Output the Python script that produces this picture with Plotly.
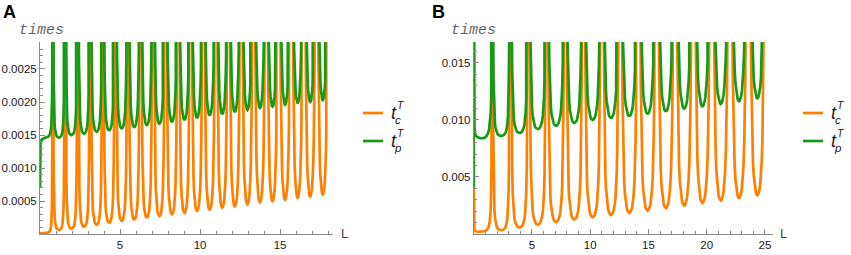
import plotly.graph_objects as go

W, H = 851, 255

# ---------------- Panel A data ----------------
A_POLES = [0.79, 1.57, 2.36, 3.14, 3.93, 4.71, 5.50, 6.28, 7.07, 7.85, 8.64, 9.42,
           10.21, 11.00, 11.78, 12.57, 13.35, 14.14, 14.92, 15.71, 16.49, 17.28, 18.06]
A_ORANGE_MIN = [0.00006, 0.00008, 0.00011, 0.00014, 0.00017, 0.00020, 0.00022, 0.00025,
                0.00027, 0.00030, 0.00032, 0.00035, 0.00037, 0.00040, 0.00042, 0.00045,
                0.00048, 0.00050, 0.00052, 0.00055, 0.00057, 0.00060]
A_GREEN_MIN = [0.00146, 0.00150, 0.00152, 0.00155, 0.00157, 0.00160, 0.00162, 0.00165,
               0.00167, 0.00170, 0.00173, 0.00176, 0.00180, 0.00182, 0.00185, 0.00188,
               0.00191, 0.00193, 0.00196, 0.00198, 0.00200, 0.00203]
A_ORANGE_START_L = [0, 0.2, 0.4, 0.5, 0.58, 0.63, 0.67, 0.70, 0.72, 0.74, 0.755, 0.765, 0.775, 0.786]
A_ORANGE_START_T = [0.00001, 0.00001, 0.000015, 0.00002, 0.00003, 0.00005, 0.00008, 0.00013,
                    0.0002, 0.00035, 0.0006, 0.001, 0.002, 1.0]
A_GREEN_START_L = [0, 0.003, 0.01, 0.03, 0.08, 0.15, 0.25, 0.35, 0.45, 0.55, 0.62, 0.67, 0.71,
                   0.74, 0.76, 0.775, 0.786]
A_GREEN_START_T = [0.0007, 0.0011, 0.00132, 0.00139, 0.00142, 0.00144, 0.00145, 0.00146,
                   0.00147, 0.00148, 0.00151, 0.00156, 0.00165, 0.0018, 0.0021, 0.003, 1.0]

# ---------------- Panel B data ----------------
B_POLES = [1.57, 3.14, 4.71, 6.28, 7.85, 9.42, 11.00, 12.57, 14.14, 15.71, 17.28, 18.85,
           20.42, 21.99, 23.56, 25.13]
B_ORANGE_MIN = [0.00033, 0.00057, 0.00082, 0.00105, 0.00127, 0.00147, 0.00167, 0.00186,
                0.00206, 0.00227, 0.00250, 0.00272, 0.00294, 0.00315, 0.00340]
B_GREEN_MIN = [0.00860, 0.00886, 0.00920, 0.00950, 0.00974, 0.01000, 0.01018, 0.01035,
               0.01055, 0.01075, 0.01100, 0.01120, 0.01140, 0.01164, 0.01190]
B_ORANGE_START_L = [0, 0.01, 0.03, 0.06, 0.1, 0.2, 0.4, 0.6, 0.8, 1.0, 1.15, 1.27, 1.36,
                    1.43, 1.48, 1.52, 1.545, 1.56, 1.571]
B_ORANGE_START_T = [0.0041, 0.0025, 0.001, 0.0005, 0.0003, 0.00022, 0.0002, 0.0002, 0.00022,
                    0.00028, 0.0004, 0.0006, 0.001, 0.0017, 0.003, 0.006, 0.015, 0.05, 1.0]
B_GREEN_START_L = [0, 0.004, 0.012, 0.02, 0.035, 0.06, 0.1, 0.2, 0.35, 0.55, 0.75, 0.95, 1.1,
                   1.22, 1.32, 1.4, 1.46, 1.5, 1.535, 1.555, 1.571]
B_GREEN_START_T = [0.004, 0.012, 0.03, 0.015, 0.0105, 0.0093, 0.0088, 0.0086, 0.00848, 0.0084,
                   0.0084, 0.00845, 0.0086, 0.0088, 0.0092, 0.0098, 0.0107, 0.012, 0.015,
                   0.025, 1.0]

# Shape of one "U" between two poles: offset from the centre (fraction of the pole gap)
# and height relative to the U's minimum
U_PHASE = [0, 0.04, 0.08, 0.12, 0.16, 0.20, 0.24, 0.28, 0.31, 0.34, 0.37, 0.40, 0.42,
           0.44, 0.46, 0.475, 0.485, 0.492, 0.497]
U_RISE = [1, 1.016, 1.066, 1.157, 1.302, 1.528, 1.882, 2.461, 3.165, 4.309, 6.340, 10.47,
          16.17, 28.48, 63.66, 162.4, 450.6, 1583, 11259]

ORANGE = "#FF8000"
GREEN = "#169B16"
AXIS = "#8a8a8a"
LW = 2.7


def build(start_l, start_t, poles, orange_min, floor_min):
    xs, ys = list(start_l), list(start_t)
    prof = [(-p, r) for p, r in zip(U_PHASE[::-1], U_RISE[::-1])][:-1] + list(zip(U_PHASE, U_RISE))
    for i, m in enumerate(orange_min):
        left, right = poles[i], poles[i + 1]
        gap = right - left
        for p, r in prof:
            xs.append(left + (0.5 + p) * gap)
            ys.append(floor_min[i] + m * (r - 1))
    return xs, ys


fig = go.Figure()

ax, ay = build(A_ORANGE_START_L, A_ORANGE_START_T, A_POLES, A_ORANGE_MIN, A_ORANGE_MIN)
fig.add_trace(go.Scatter(x=ax, y=ay, mode="lines", line=dict(color=ORANGE, width=LW),
                         xaxis="x", yaxis="y", showlegend=False, name="t_c^T"))
gx, gy = build(A_GREEN_START_L, A_GREEN_START_T, A_POLES, A_ORANGE_MIN, A_GREEN_MIN)
fig.add_trace(go.Scatter(x=gx, y=gy, mode="lines", line=dict(color=GREEN, width=LW),
                         xaxis="x", yaxis="y", showlegend=False, name="t_p^T"))

bx, by = build(B_ORANGE_START_L, B_ORANGE_START_T, B_POLES, B_ORANGE_MIN, B_ORANGE_MIN)
fig.add_trace(go.Scatter(x=bx, y=by, mode="lines", line=dict(color=ORANGE, width=LW),
                         xaxis="x2", yaxis="y2", showlegend=False, name="t_c^T"))
hx, hy = build(B_GREEN_START_L, B_GREEN_START_T, B_POLES, B_ORANGE_MIN, B_GREEN_MIN)
fig.add_trace(go.Scatter(x=hx, y=hy, mode="lines", line=dict(color=GREEN, width=LW),
                         xaxis="x2", yaxis="y2", showlegend=False, name="t_p^T"))

TICKFONT = dict(family="Liberation Sans, Arial, sans-serif", size=11.5, color="#1a1a1a")


def xax(domain, rng, vals):
    return dict(domain=domain, range=rng, showline=True, linecolor=AXIS, linewidth=1,
                ticks="inside", ticklen=5, tickcolor=AXIS, tickwidth=1,
                tickvals=vals, ticktext=[str(v) for v in vals],
                minor=dict(ticks="inside", ticklen=3, dtick=1, tick0=0, tickcolor=AXIS, showgrid=False),
                showgrid=False, zeroline=False, tickfont=TICKFONT, fixedrange=True)


def yax(domain, rng, vals, texts, minor_dt, anchor):
    return dict(domain=domain, range=rng, showline=True, linecolor=AXIS, linewidth=1,
                ticks="inside", ticklen=5, tickcolor=AXIS, tickwidth=1,
                tickvals=vals, ticktext=texts,
                minor=dict(ticks="inside", ticklen=3, dtick=minor_dt, tick0=0, tickcolor=AXIS, showgrid=False),
                showgrid=False, zeroline=False, tickfont=TICKFONT, anchor=anchor, fixedrange=True)


YDOM = [(255 - 234) / H, (255 - 42) / H]
A_XT = [5, 10, 15]
A_YT = [0.0005, 0.0010, 0.0015, 0.0020, 0.0025]
A_YTXT = ["0.0005", "0.0010", "0.0015", "0.0020", "0.0025"]
B_XT = [5, 10, 15, 20, 25]
B_YT = [0.005, 0.010, 0.015]
B_YTXT = ["0.005", "0.010", "0.015"]

fig.update_layout(
    width=W, height=H, autosize=False,
    margin=dict(l=0, r=0, t=0, b=0),
    paper_bgcolor="white", plot_bgcolor="white",
    xaxis=dict(xax([40 / W, 333 / W], [0, 18.31], A_XT), anchor="y"),
    yaxis=yax(YDOM, [0, 0.002909], A_YT, A_YTXT, 0.0001, "x"),
    xaxis2=dict(xax([473.75 / W, 773 / W], [0, 25.69], B_XT), anchor="y2"),
    yaxis2=yax(YDOM, [0, 0.01684], B_YT, B_YTXT, 0.001, "x2"),
)


def px(x):
    return x / W


def py(y):
    return 1 - y / H


ann = []
shapes = []


def text(x, y, s, size, color="#222", family="Liberation Sans, Arial, sans-serif"):
    ann.append(dict(x=px(x), y=py(y), xref="paper", yref="paper", text=s, showarrow=False,
                    font=dict(size=size, color=color, family=family), xanchor="center", yanchor="middle"))


# panel letters
text(9, 12, "<b>A</b>", 18, "#000")
text(438, 12, "<b>B</b>", 18, "#000")
# axis labels
MONO = "Liberation Mono, Courier New, monospace"
text(41, 30, "<i>times</i>", 15, "#666", MONO)
text(473, 30, "<i>times</i>", 15, "#666", MONO)
text(344, 233, "L", 13, "#444")
text(783, 233, "L", 13, "#444")

# legends
for (lx, tx) in [(363, 393.5), (803, 833.5)]:
    for (yy, col, sub) in [(113, ORANGE, "c"), (141, GREEN, "p")]:
        shapes.append(dict(type="line", xref="paper", yref="paper", x0=px(lx), x1=px(lx + 20),
                           y0=py(yy), y1=py(yy), line=dict(color=col, width=LW)))
        text(tx, yy, "<i>t</i>", 18, "#222")
        text(tx + 7, yy - 8, "<i>T</i>", 10.5, "#222")
        text(tx + 4.5, yy + 7, "<i>%s</i>" % sub, 11.5, "#222")

fig.update_layout(annotations=ann, shapes=shapes)

fig.write_html("out.html", config={"displayModeBar": False},
               post_script="document.body.style.margin='0';document.body.style.padding='0';document.body.style.overflow='hidden';")
